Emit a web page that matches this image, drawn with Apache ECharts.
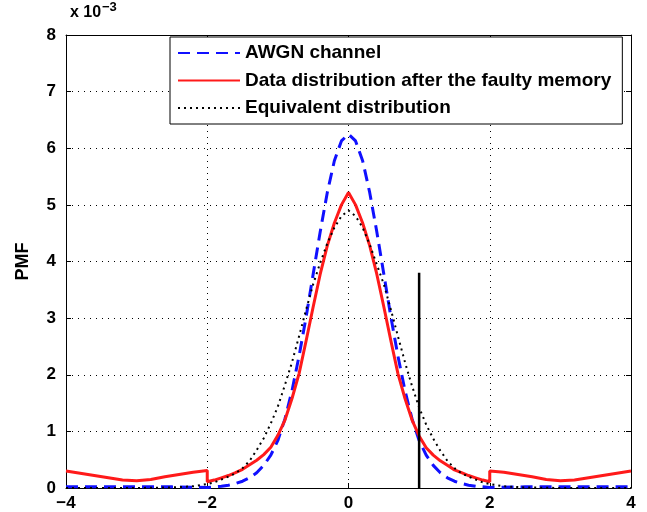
<!DOCTYPE html>
<html>
<head>
<meta charset="utf-8">
<script src="https://cdn.jsdelivr.net/npm/echarts@6/dist/echarts.min.js"></script>
<style>
  html, body { margin: 0; padding: 0; background: #fff; }
  #chart { width: 647px; height: 512px; }
</style>
</head>
<body>
<div id="chart"></div>
<script>
// Sample positions (x) for the central part of each curve
const xCore = [-2.0, -1.9, -1.8, -1.7, -1.6, -1.5, -1.4, -1.3, -1.2, -1.1, -1.0,
               -0.9, -0.8, -0.7, -0.6, -0.5, -0.4, -0.3, -0.2, -0.1, 0.0,
               0.1, 0.2, 0.3, 0.4, 0.5, 0.6, 0.7, 0.8, 0.9, 1.0,
               1.1, 1.2, 1.3, 1.4, 1.5, 1.6, 1.7, 1.8, 1.9, 2.0];

// AWGN channel PMF (x 1e-3)
const awgnLeftX = [-4.0, -3.0, -2.5];
const awgnLeftY = [0.02, 0.02, 0.02];
const awgnCoreY = [0.01, 0.02, 0.03, 0.05, 0.08, 0.12, 0.18, 0.27, 0.40, 0.58, 0.84,
                   1.22, 1.72, 2.33, 3.02, 3.78, 4.53, 5.22, 5.78, 6.13, 6.25,
                   6.13, 5.78, 5.22, 4.53, 3.78, 3.02, 2.33, 1.72, 1.22, 0.84,
                   0.58, 0.40, 0.27, 0.18, 0.12, 0.08, 0.05, 0.03, 0.02, 0.01];
const awgnRightX = [2.5, 3.0, 4.0];
const awgnRightY = [0.02, 0.02, 0.02];

// Data distribution after the faulty memory (x 1e-3)
const faultyLeftX = [-4.0, -3.8, -3.6, -3.4, -3.2, -3.0, -2.8, -2.6, -2.4, -2.2, -2.0];
const faultyLeftY = [0.30, 0.26, 0.22, 0.18, 0.14, 0.13, 0.15, 0.20, 0.24, 0.28, 0.31];
const faultyCoreY = [0.11, 0.14, 0.18, 0.22, 0.27, 0.33, 0.41, 0.49, 0.59, 0.72, 0.93,
                     1.20, 1.58, 2.02, 2.60, 3.20, 3.78, 4.28, 4.68, 5.00, 5.22,
                     5.00, 4.68, 4.28, 3.78, 3.20, 2.60, 2.02, 1.58, 1.20, 0.92,
                     0.71, 0.58, 0.48, 0.40, 0.32, 0.27, 0.22, 0.18, 0.14, 0.11];
const faultyRightX = [2.0, 2.2, 2.4, 2.6, 2.8, 3.0, 3.2, 3.4, 3.6, 3.8, 4.0];
const faultyRightY = [0.30, 0.28, 0.24, 0.20, 0.15, 0.13, 0.14, 0.18, 0.22, 0.26, 0.30];

// Equivalent distribution (x 1e-3)
const equivLeftX = [-4.0, -3.0, -2.5, -2.2];
const equivLeftY = [0.00, 0.00, 0.01, 0.03];
const equivCoreY = [0.07, 0.10, 0.15, 0.20, 0.26, 0.35, 0.48, 0.67, 0.88, 1.14, 1.44,
                    1.82, 2.22, 2.68, 3.15, 3.60, 3.98, 4.32, 4.60, 4.80, 4.90,
                    4.80, 4.60, 4.30, 3.95, 3.60, 3.15, 2.68, 2.22, 1.80, 1.42,
                    1.12, 0.87, 0.66, 0.48, 0.35, 0.26, 0.20, 0.15, 0.10, 0.07];
const equivRightX = [2.2, 2.5, 3.0, 4.0];
const equivRightY = [0.03, 0.01, 0.00, 0.00];

// Threshold marker
const markerX = [1.0, 1.0];
const markerY = [0.0, 3.8];

// Axis ticks
const xTicks = [-4, -2, 0, 2, 4];
const yTicks = [0, 1, 2, 3, 4, 5, 6, 7, 8];

const seriesNames = ['AWGN channel', 'Data distribution after the faulty memory', 'Equivalent distribution'];

function pairs(xs, ys) {
  return xs.map((x, i) => [x, ys[i]]);
}

const FONT = '"Liberation Sans", Arial, Helvetica, sans-serif';

const awgnData = pairs(awgnLeftX, awgnLeftY)
  .concat(pairs(xCore, awgnCoreY))
  .concat(pairs(awgnRightX, awgnRightY));
const faultyData = pairs(faultyLeftX, faultyLeftY)
  .concat(pairs(xCore, faultyCoreY))
  .concat(pairs(faultyRightX, faultyRightY));
const equivData = pairs(equivLeftX, equivLeftY)
  .concat(pairs(xCore, equivCoreY))
  .concat(pairs(equivRightX, equivRightY));

const chart = echarts.init(document.getElementById('chart'), null, { renderer: 'canvas' });

const axisLabelStyle = {
  color: '#000', fontFamily: FONT, fontWeight: 'bold', fontSize: 17,
  formatter: v => String(v).replace('-', '\u2212')
};
const gridLine = { show: true, lineStyle: { color: '#000', width: 1, type: [1, 5] } };
const frameLine = { show: true, onZero: false, lineStyle: { color: '#000', width: 1 } };
const innerTick = { show: true, inside: true, length: 5, lineStyle: { color: '#000', width: 1 } };

const option = {
  animation: false,
  backgroundColor: '#fff',
  grid: { left: 66, right: 16, top: 35, bottom: 23, containLabel: false },
  xAxis: [
    {
      type: 'value', min: xTicks[0], max: xTicks[xTicks.length - 1], interval: 2,
      position: 'bottom',
      axisLine: frameLine, axisTick: innerTick,
      axisLabel: Object.assign({ margin: 7 }, axisLabelStyle),
      splitLine: gridLine
    },
    {
      type: 'value', min: xTicks[0], max: xTicks[xTicks.length - 1], interval: 2,
      position: 'top',
      axisLine: frameLine, axisTick: innerTick,
      axisLabel: { show: false }, splitLine: { show: false }
    }
  ],
  yAxis: [
    {
      type: 'value', min: yTicks[0], max: yTicks[yTicks.length - 1], interval: 1,
      position: 'left',
      name: 'PMF', nameLocation: 'middle', nameGap: 34, nameRotate: 90,
      nameTextStyle: { color: '#000', fontFamily: FONT, fontWeight: 'bold', fontSize: 18 },
      axisLine: frameLine, axisTick: innerTick,
      axisLabel: Object.assign({ margin: 10 }, axisLabelStyle),
      splitLine: gridLine
    },
    {
      type: 'value', min: yTicks[0], max: yTicks[yTicks.length - 1], interval: 1,
      position: 'right',
      axisLine: frameLine, axisTick: innerTick,
      axisLabel: { show: false }, splitLine: { show: false }
    }
  ],
  legend: {
    data: seriesNames,
    orient: 'vertical',
    left: 170, top: 37,
    padding: [6, 11, 6, 7],
    itemWidth: 62, itemHeight: 20, itemGap: 7.5,
    itemStyle: { opacity: 0 },
    backgroundColor: '#fff',
    borderColor: '#000', borderWidth: 1,
    textStyle: { color: '#000', fontFamily: FONT, fontWeight: 'bold', fontSize: 19, lineHeight: 20 }
  },
  graphic: [
    {
      type: 'text', left: 70, top: 5,
      style: { text: 'x 10', fill: '#000', font: 'bold 16px ' + FONT }
    },
    {
      type: 'text', left: 102, top: 1,
      style: { text: '\u22123', fill: '#000', font: 'bold 13px ' + FONT }
    }
  ],
  series: [
    {
      name: seriesNames[0], type: 'line', data: awgnData,
      symbol: 'none', z: 3,
      lineStyle: { color: '#1010ff', width: 3, type: [12, 7] }
    },
    {
      name: seriesNames[1], type: 'line', data: faultyData,
      symbol: 'none', z: 4,
      lineStyle: { color: '#ff1a1a', width: 3, type: 'solid' }
    },
    {
      name: seriesNames[2], type: 'line', data: equivData,
      symbol: 'none', z: 5,
      lineStyle: { color: '#000', width: 2, type: [2, 4] }
    },
    {
      name: 'marker', type: 'line', data: pairs(markerX, markerY),
      symbol: 'none', z: 6,
      lineStyle: { color: '#000', width: 2.5, type: 'solid' }
    }
  ]
};

chart.setOption(option);
</script>
</body>
</html>
